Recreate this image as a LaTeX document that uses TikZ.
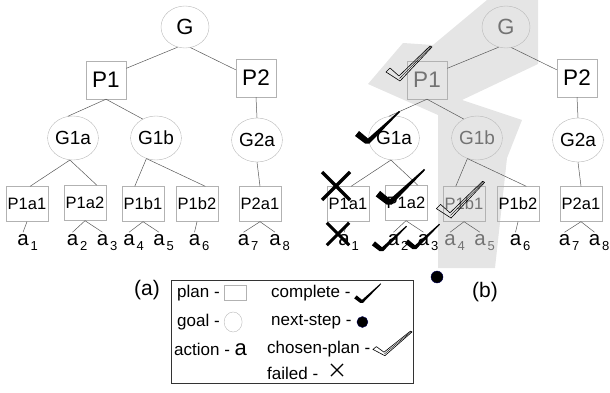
\documentclass[tikz,border=0pt]{standalone}
\usepackage{fontspec}
\setmainfont{Liberation Sans}
\usetikzlibrary{shapes.geometric,positioning}

\newcommand{\fs}[1]{\fontsize{#1}{#1}\selectfont}
% action letter with a lowered index that takes no width
\newcommand{\act}[1]{a\rlap{\kern2pt\raisebox{-5pt}{\fs{13}#1}}}

\tikzset{
  goalnode/.style={ellipse,draw=gray!55,inner sep=0pt,minimum width=45,
                   minimum height=44,font=\fs{19}},
  topgoal/.style={goalnode,minimum width=48,minimum height=42,font=\fs{22}},
  plannode/.style={rectangle,draw=gray!60,inner sep=0pt,minimum width=42,
                   minimum height=35,font=\fs{16.5}},
  topplan/.style={plannode,minimum width=40,minimum height=38,font=\fs{22.5}},
  actnode/.style={inner sep=2pt,font=\fs{20.5}},
  dimmed/.style={text=black!55},
  link/.style={draw=black!65,line width=0.5pt},
  legtext/.style={inner sep=0pt,anchor=west,font=\fs{17}},
  nextdot/.style={circle,fill=black,draw=blue!35!black,inner sep=0pt,
                  minimum size=#1},
  shade/.style={fill=gray!20,draw=none},
  % marks put on the tree
  donetick/.pic={
    \fill[black] (-13pt,6pt) -- (-9pt,11pt) -- (0pt,3.5pt) -- (31pt,31pt)
      -- (32pt,30pt) -- (1.5pt,-1.5pt) -- (-3pt,-1.5pt) -- cycle;},
  chosentick/.pic={
    \draw[black,line width=0.6pt,line join=round] (-13pt,8pt) -- (-9pt,12pt)
      -- (0pt,4pt) -- (31pt,34pt) -- (33pt,33pt) -- (1pt,-1pt) -- cycle;
    \draw[black,line width=0.4pt] (0.5pt,1.5pt) -- (32pt,33.5pt);},
  failcross/.pic={
    \draw (-14pt,-14pt) -- (14pt,14pt);
    \draw (-14pt,14pt) -- (14pt,-14pt);}
}

\begin{document}
\begin{tikzpicture}[x=1pt,y=-1pt]
  \useasboundingbox (0,0) rectangle (610,393);

  % region of the chosen branch in (b)
  \fill[shade] (487,0) -- (538,0) -- (538,64) -- (462,100) -- (522,120)
    -- (507,158) -- (495,268) -- (438,268) -- (438,115) -- (368,84)
    -- (403,43) -- (433,45) -- cycle;

  % tree (a)
  \node[topgoal] (G) at (185,27) {G};
  \node[topplan] (P1) at (106,80) {P1};
  \node[topplan] (P2) at (256,78) {P2};
  \node[goalnode] (G1a) at (73,138) {G1a};
  \node[goalnode] (G1b) at (156,138) {G1b};
  \node[goalnode] (G2a) at (257,140) {G2a};
  \node[plannode] (P1a1) at (27,204) {P1a1};
  \node[plannode] (P1a2) at (85,203) {P1a2};
  \node[plannode] (P1b1) at (143,204) {P1b1};
  \node[plannode] (P1b2) at (197,204) {P1b2};
  \node[plannode] (P2a1) at (260,204) {P2a1};
  \node[actnode] (a1) at (23,242.5) {\act{1}};
  \node[actnode] (a2) at (72.5,242.5) {\act{2}};
  \node[actnode] (a3) at (102.5,242.5) {\act{3}};
  \node[actnode] (a4) at (129,242.5) {\act{4}};
  \node[actnode] (a5) at (159,242.5) {\act{5}};
  \node[actnode] (a6) at (194.5,242.5) {\act{6}};
  \node[actnode] (a7) at (243.5,242.5) {\act{7}};
  \node[actnode] (a8) at (275,242.5) {\act{8}};

  % tree (b), same layout
  \begin{scope}[xshift=321]
    \node[topgoal,dimmed] (bG) at (185,27) {G};
    \node[topplan,dimmed] (bP1) at (106,80) {P1};
    \node[topplan] (bP2) at (256,78) {P2};
    \node[goalnode] (bG1a) at (73,138) {G1a};
    \node[goalnode,dimmed] (bG1b) at (156,138) {G1b};
    \node[goalnode] (bG2a) at (257,140) {G2a};
    \node[plannode] (bP1a1) at (27,204) {P1a1};
    \node[plannode] (bP1a2) at (85,203) {P1a2};
    \node[plannode,dimmed] (bP1b1) at (143,204) {P1b1};
    \node[plannode] (bP1b2) at (197,204) {P1b2};
    \node[plannode] (bP2a1) at (260,204) {P2a1};
    \node[actnode] (ba1) at (23,242.5) {\act{1}};
    \node[actnode] (ba2) at (72.5,242.5) {\act{2}};
    \node[actnode] (ba3) at (102.5,242.5) {\act{3}};
    \node[actnode,dimmed] (ba4) at (129,242.5) {\act{4}};
    \node[actnode,dimmed] (ba5) at (159,242.5) {\act{5}};
    \node[actnode] (ba6) at (194.5,242.5) {\act{6}};
    \node[actnode] (ba7) at (243.5,242.5) {\act{7}};
    \node[actnode] (ba8) at (273.5,242.5) {\act{8}};
  \end{scope}

  \foreach \p in {,b}
    \foreach \f/\t in {G.250/P1.30,G.285/P2.158,P1.south/G1a.103,
        P1.south/G1b.125,P2.south/G2a.north,G1a.262/P1a1.80,
        G1a.262/P1a2.56,G1b.245/P1b1.115,G1b.245/P1b2.65,
        G2a.south/P2a1.north,P1a1.south/a1.north,P1a2.south/a2.north,
        P1a2.south/a3.north,P1b1.south/a4.north,P1b1.south/a5.north,
        P1b2.south/a6.north,P2a1.south/a7.north,P2a1.south/a8.north}
      \draw[link] (\p\f) -- (\p\t);

  % execution marks
  \pic at (399,80) {chosentick};
  \pic at (368,142) {donetick};
  \pic[line width=3.5pt] at (336,186) {failcross};
  \pic[scale=1.1] at (390,203) {donetick};
  \pic[scale=1.05] at (450,217) {chosentick};
  \pic[line width=3pt,scale=0.8] at (338,234) {failcross};
  \pic[scale=0.78] at (382,250) {donetick};
  \pic[scale=0.78] at (415,248) {donetick};
  \node[nextdot=12pt] (next) at (437,277) {};

  \node[font=\fs{21}] (la) at (147,290) {(a)};
  \node[font=\fs{21}] (lb) at (485,292) {(b)};

  % legend
  \node[draw=black!80,line width=0.6pt,minimum width=242,minimum height=103,
        inner sep=0pt] (legend) at (292,331.5) {};
  \node[legtext] (lgplan) at (177,293) {plan -};
  \node[plannode,minimum width=22,minimum height=15,right=4pt of lgplan] {};
  \node[legtext] (lggoal) at (177,322) {goal -};
  \node[goalnode,minimum width=18,minimum height=20,right=4pt of lggoal] {};
  \node[legtext] (lgact) at (174,349) {action - {\fs{22}a}};
  \node[legtext] (lgdone) at (271,293) {complete -};
  \pic[scale=0.6] at (362,302) {donetick};
  \node[legtext] (lgnext) at (271,322) {next-step -};
  \node[nextdot=11pt,right=5pt of lgnext] {};
  \node[legtext] (lgchosen) at (267,349) {chosen-plan -};
  \pic[xscale=0.85,yscale=0.7] at (384,355) {chosentick};
  \node[legtext] (lgfail) at (267,373) {failed -};
  \pic[line width=1.3pt,scale=0.43] at (337,370) {failcross};
\end{tikzpicture}
\end{document}
